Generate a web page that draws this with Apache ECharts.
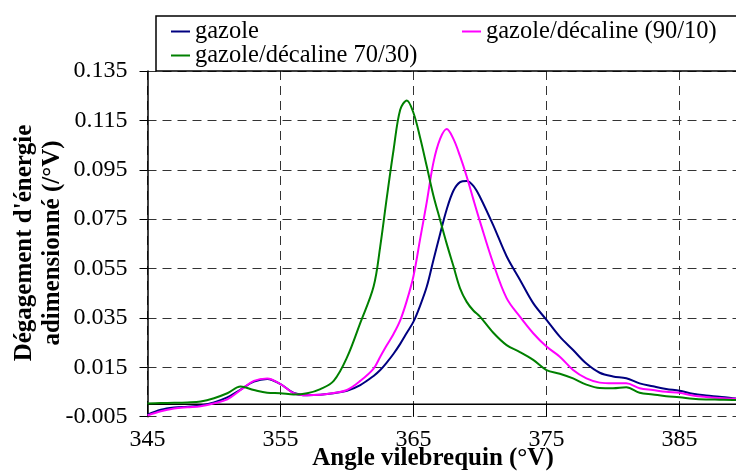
<!DOCTYPE html>
<html>
<head>
<meta charset="utf-8">
<script src="https://cdn.jsdelivr.net/npm/echarts@6/dist/echarts.min.js"></script>
<style>
  html, body { margin: 0; padding: 0; background: #fff; }
  #chart { width: 736px; height: 471px; }
</style>
</head>
<body>
<div id="chart"></div>
<script>
// angle (°V) and the three curves
var angles = [345, 346, 347, 348, 349, 350, 351, 352, 353, 354, 355, 356, 357, 358, 359, 360, 361, 362, 362.5, 363,
  363.5, 364, 364.5, 365, 365.5, 366, 366.5, 367, 367.5, 368, 368.5, 369, 369.5, 370, 371, 372, 373, 374, 375, 376,
  377, 378, 379, 380, 381, 382, 383, 384, 385, 386, 387, 388, 389, 390];

var gazole = [-0.0042, -0.0022, -0.0013, -0.0010, -0.0005, 0.0008, 0.0028, 0.0060, 0.0092, 0.0103, 0.0082, 0.0046, 0.0037, 0.0039, 0.0045, 0.0055, 0.0078, 0.0115, 0.0139, 0.0170,
  0.0205, 0.0245, 0.0290, 0.0335, 0.0400, 0.0477, 0.0585, 0.0690, 0.0790, 0.0865, 0.0900, 0.0905, 0.0885, 0.0840, 0.0725, 0.0600, 0.0505, 0.0410, 0.0342, 0.0274,
  0.0220, 0.0165, 0.0128, 0.0113, 0.0106, 0.0085, 0.0073, 0.0062, 0.0055, 0.0043, 0.0036, 0.0031, 0.0025, 0.0022];

var deca9010 = [-0.0045, -0.0028, -0.0017, -0.0012, -0.0008, 0.0004, 0.0020, 0.0058, 0.0095, 0.0105, 0.0082, 0.0045, 0.0037, 0.0039, 0.0046, 0.0058, 0.0095, 0.0145, 0.0193, 0.0240,
  0.0285, 0.0340, 0.0420, 0.0520, 0.0670, 0.0820, 0.0980, 0.1075, 0.1115, 0.1075, 0.1005, 0.0923, 0.0830, 0.0740, 0.0570, 0.0430, 0.0355, 0.0288, 0.0234, 0.0193,
  0.0139, 0.0105, 0.0088, 0.0085, 0.0085, 0.0065, 0.0058, 0.0051, 0.0047, 0.0036, 0.0030, 0.0026, 0.0023, 0.0022];

var deca7030 = [0.0003, 0.0005, 0.0006, 0.0008, 0.0012, 0.0025, 0.0045, 0.0072, 0.0058, 0.0047, 0.0045, 0.0040, 0.0045, 0.0062, 0.0095, 0.0190, 0.0330, 0.0477, 0.0640, 0.0840,
  0.1030, 0.1193, 0.1231, 0.1180, 0.1080, 0.0963, 0.0845, 0.0747, 0.0650, 0.0560, 0.0470, 0.0415, 0.0380, 0.0355, 0.0290, 0.0240, 0.0212, 0.0180, 0.0139, 0.0124,
  0.0105, 0.0080, 0.0066, 0.0065, 0.0069, 0.0047, 0.0040, 0.0033, 0.0029, 0.0023, 0.0020, 0.0019, 0.0018, 0.0018];

var names = ['gazole', 'gazole/décaline (90/10)', 'gazole/décaline 70/30)'];
var colors = ['#000080', '#FF00FF', '#008000'];

// axes start at 345 and -0.005, so values are shifted to keep ticks on the grid
var X0 = 345, Y0 = -0.005, XMAX = 390;
var FONT = 'Liberation Serif';

function pairs(vals) {
  return angles.map(function (a, i) { return [a - X0, vals[i] - Y0]; });
}

var chart = echarts.init(document.getElementById('chart'));

var dashed = { color: '#333', type: [9, 6], width: 1 };

function line(name, vals, color) {
  return {
    name: name,
    type: 'line',
    data: pairs(vals),
    smooth: 0.35,
    showSymbol: false,
    symbol: 'none',
    lineStyle: { color: color, width: 2 },
    itemStyle: { color: color },
    z: 3
  };
}

var series = [
  // zero line across the plot
  {
    name: 'zero',
    type: 'line',
    data: [[0, 0 - Y0], [XMAX - X0, 0 - Y0]],
    symbol: 'none',
    silent: true,
    lineStyle: { color: '#000', width: 1.5 },
    z: 2
  },
  line(names[0], gazole, colors[0]),
  line(names[1], deca9010, colors[1]),
  line(names[2], deca7030, colors[2])
];

function legendAt(name, left, top) {
  return {
    data: [name],
    left: left,
    top: top,
    padding: 0,
    itemWidth: 19,
    itemHeight: 2,
    icon: 'rect',
    selectedMode: false,
    textStyle: { fontFamily: FONT, fontSize: 24.5, color: '#000' }
  };
}

var option = {
  animation: false,
  backgroundColor: '#fff',
  grid: { left: 147.5, top: 71, right: -10, bottom: 54.3, containLabel: false, outerBoundsMode: 'none' },
  legend: [
    legendAt(names[0], 171, 19),
    legendAt(names[1], 462, 19),
    legendAt(names[2], 171, 43)
  ],
  xAxis: {
    type: 'value',
    min: 0,
    max: XMAX - X0,
    interval: 10,
    axisLine: { show: false },
    axisTick: { show: true, inside: true, length: 13, lineStyle: { color: '#000', width: 1 } },
    axisLabel: {
      margin: 11,
      fontFamily: FONT,
      fontSize: 24,
      color: '#000',
      formatter: function (v) { return v % 10 === 0 ? String(v + X0) : ''; }
    },
    splitLine: { show: true, lineStyle: dashed }
  },
  yAxis: {
    type: 'value',
    min: 0,
    max: 0.14,
    interval: 0.02,
    axisLine: { show: true, lineStyle: { color: '#000', width: 1.5 } },
    axisTick: { show: true, length: 8, lineStyle: { color: '#000', width: 1 } },
    axisLabel: {
      margin: 20,
      fontFamily: FONT,
      fontSize: 24,
      color: '#000',
      formatter: function (v) { return (v + Y0).toFixed(3); }
    },
    splitLine: { show: true, lineStyle: dashed }
  },
  graphic: [
    {
      type: 'rect',
      z: 10,
      shape: { x: 156, y: 16, width: 600, height: 55 },
      style: { fill: 'none', stroke: '#000', lineWidth: 1.5 }
    },
    {
      type: 'text',
      x: 433,
      y: 459,
      style: {
        text: 'Angle vilebrequin (°V)',
        font: 'bold 25px "Liberation Serif"',
        fill: '#000',
        align: 'center',
        verticalAlign: 'middle'
      }
    },
    {
      type: 'text',
      x: 39,
      y: 243,
      rotation: Math.PI / 2,
      style: {
        text: "Dégagement d'énergie\nadimensionné (/°V)",
        font: 'bold 25px "Liberation Serif"',
        lineHeight: 28,
        fill: '#000',
        align: 'center',
        verticalAlign: 'middle'
      }
    }
  ],
  series: series
};

chart.setOption(option);
</script>
</body>
</html>
